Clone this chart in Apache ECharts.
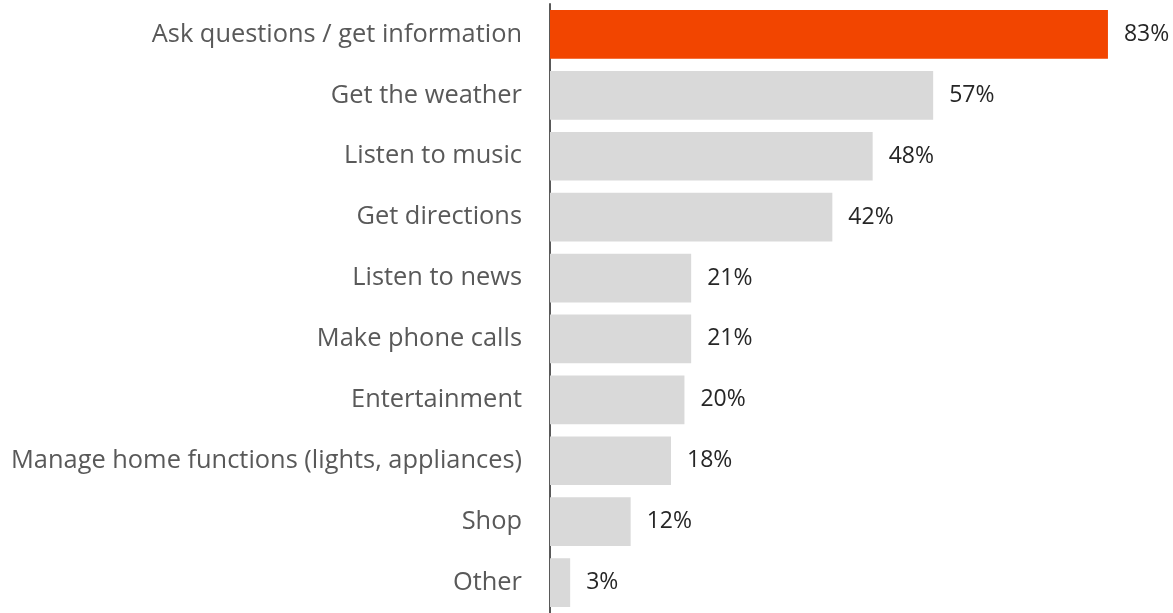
<!DOCTYPE html>
<html>
<head>
<meta charset="utf-8">
<script src="https://cdn.jsdelivr.net/npm/echarts@6/dist/echarts.min.js"></script>
<style>
  html, body { margin: 0; padding: 0; background: #fff; }
  #chart { width: 1173px; height: 613px; }
</style>
</head>
<body>
<div id="chart"></div>
<script>
// Uses of voice assistants, share of respondents (%)
const categories = [
  'Ask questions / get information',
  'Get the weather',
  'Listen to music',
  'Get directions',
  'Listen to news',
  'Make phone calls',
  'Entertainment',
  'Manage home functions (lights, appliances)',
  'Shop',
  'Other'
];
const values = [83, 57, 48, 42, 21, 21, 20, 18, 12, 3];
const highlightIndex = 0;

const FONT = '"Open Sans", "Noto Sans", sans-serif';

const chart = echarts.init(document.getElementById('chart'), null, { renderer: 'canvas' });

chart.setOption({
  animation: false,
  grid: { left: 550, right: 18, top: 4, bottom: -2, containLabel: false },
  xAxis: {
    type: 'value',
    min: 0,
    max: 90,
    show: false
  },
  yAxis: {
    type: 'category',
    data: categories,
    inverse: true,
    axisLine: { show: true, lineStyle: { color: '#595959', width: 2 } },
    axisTick: { show: false },
    axisLabel: {
      margin: 28,
      color: '#595959',
      fontSize: 25.4,
      fontFamily: FONT
    },
    splitLine: { show: false }
  },
  series: [{
    type: 'bar',
    barCategoryGap: '20%',
    data: values.map((v, i) => ({
      value: v,
      itemStyle: { color: i === highlightIndex ? '#F24500' : '#D9D9D9' }
    })),
    label: {
      show: true,
      position: 'right',
      distance: 16,
      formatter: p => p.value + '%',
      color: '#262626',
      fontSize: 23,
      fontFamily: FONT
    }
  }]
});
</script>
</body>
</html>
